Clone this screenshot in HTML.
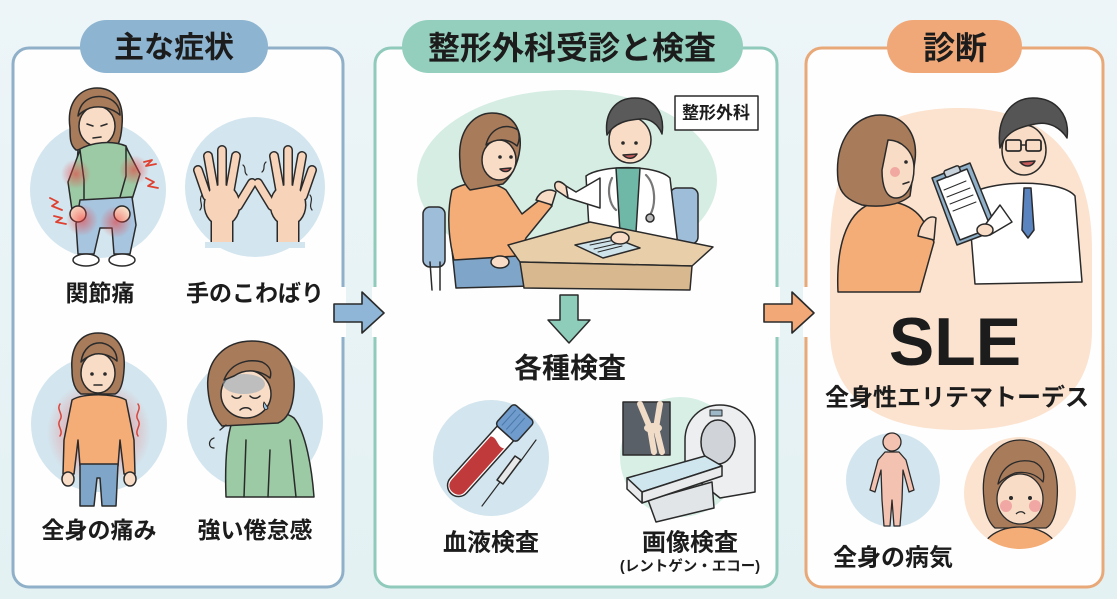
<!DOCTYPE html>
<html><head><meta charset="utf-8">
<style>
html,body{margin:0;padding:0;}
body{width:1117px;height:599px;overflow:hidden;background:#e9f4f7;}
svg{display:block;}
text{font-family:"Liberation Sans","Noto Sans CJK JP",sans-serif;font-weight:700;fill:#1c1c1c;}
</style></head><body>
<svg width="1117" height="599" viewBox="0 0 1117 599" xmlns="http://www.w3.org/2000/svg">
<defs>
<linearGradient id="bgg" x1="0" y1="0" x2="0" y2="1"><stop offset="0" stop-color="#edf5f8"/><stop offset="1" stop-color="#e3f1f3"/></linearGradient>
<radialGradient id="red"><stop offset="0" stop-color="#ee3b3b" stop-opacity="0.6"/><stop offset="1" stop-color="#ee3b3b" stop-opacity="0"/></radialGradient>
<radialGradient id="red2"><stop offset="0.4" stop-color="#f06a6a" stop-opacity="0.55"/><stop offset="1" stop-color="#f06a6a" stop-opacity="0"/></radialGradient>
<clipPath id="pc"><circle cx="1020" cy="493" r="56"/></clipPath>
</defs>
<rect width="1117" height="599" fill="url(#bgg)"/>

<!-- Panels -->
<rect x="13" y="48" width="330" height="539" rx="16" fill="#fefefe" stroke="#8fb0c8" stroke-width="3"/>
<rect x="375" y="48" width="402" height="539" rx="16" fill="#fefefe" stroke="#90cabb" stroke-width="3"/>
<rect x="806" y="48" width="297" height="539" rx="16" fill="#fefefe" stroke="#e8a878" stroke-width="3"/>

<!-- Pills -->
<rect x="80" y="20" width="188" height="53" rx="26.5" fill="#8db4d0"/>
<text x="174" y="48" font-size="30" text-anchor="middle" dominant-baseline="central">主な症状</text>
<rect x="402" y="20" width="341" height="53" rx="26.5" fill="#94cfbd"/>
<text x="572" y="48" font-size="32" text-anchor="middle" dominant-baseline="central">整形外科受診と検査</text>
<rect x="887" y="20" width="135" height="53" rx="26.5" fill="#f0a878"/>
<text x="955" y="48" font-size="32" text-anchor="middle" dominant-baseline="central">診断</text>

<!-- Border gaps + arrows -->
<rect x="340" y="287" width="6" height="50" fill="#fefefe"/>
<rect x="346" y="287" width="27" height="50" fill="#e7f3f5"/>
<rect x="372" y="287" width="6" height="50" fill="#fefefe"/>
<path d="M334,304 L362,304 L362,292 L384,313 L362,333 L362,322 L334,322 Z" fill="#8fb6d6" stroke="#2a2a2a" stroke-width="1.6" stroke-linejoin="round"/>
<rect x="774" y="287" width="6" height="50" fill="#fefefe"/>
<rect x="780" y="287" width="24" height="50" fill="#e7f3f5"/>
<rect x="803" y="287" width="6" height="50" fill="#fefefe"/>
<path d="M764,304 L792,304 L792,292 L814,313 L792,333 L792,322 L764,322 Z" fill="#f3a878" stroke="#2a2a2a" stroke-width="1.6" stroke-linejoin="round"/>

<g stroke="#2a2a2a" stroke-width="1.5" stroke-linejoin="round" stroke-linecap="round">
<!-- ===== Panel 1 fig1: joint pain ===== -->
<circle cx="98" cy="190" r="68" fill="#d3e5ee" stroke="none"/>
<path d="M70,128 C66,100 82,88 97,88 C115,88 124,102 122,125 C121,140 118,148 112,150 L76,150 C70,145 70,138 70,128Z" fill="#a87b5b"/>
<ellipse cx="97" cy="126" rx="18" ry="20" fill="#f8dcc6"/>
<path d="M78,116 C80,100 92,95 104,97 C114,99 120,106 120,115 C112,108 100,105 90,108 C85,110 81,112 78,116Z" fill="#a87b5b"/>
<path d="M87,124 L93,126 M101,126 L107,124 M93,138 L101,137" fill="none"/>
<path d="M78,150 L76,178 L82,202 L132,198 L136,172 L126,146 C112,140 92,142 78,150Z" fill="#9ccaa5"/>
<path d="M80,150 L68,182 L72,210 L84,210 L84,180 Z" fill="#9ccaa5"/>
<path d="M126,147 L140,174 L128,212 L117,208 L126,176 Z" fill="#9ccaa5"/>
<path d="M80,200 L132,197 L136,225 L130,254 L114,254 L112,228 L100,228 L94,254 L78,254 L76,224Z" fill="#a8c5df"/>
<ellipse cx="78" cy="214" rx="8" ry="8" fill="#f8dcc6"/>
<ellipse cx="122" cy="214" rx="8" ry="8" fill="#f8dcc6"/>
<ellipse cx="86" cy="260" rx="13" ry="6" fill="#fff"/>
<ellipse cx="122" cy="260" rx="13" ry="6" fill="#fff"/>
<circle cx="76" cy="174" r="15" fill="url(#red)" stroke="none"/>
<circle cx="134" cy="170" r="15" fill="url(#red)" stroke="none"/>
<circle cx="82" cy="220" r="16" fill="url(#red)" stroke="none"/>
<circle cx="116" cy="222" r="16" fill="url(#red)" stroke="none"/>
<path d="M50,198 L58,202 L52,206 L62,210 M54,216 L62,218 L56,222 L66,224 M144,162 L152,160 L146,166 L156,164 M146,178 L154,182 L148,186 L158,188" fill="none" stroke="#e0402f" stroke-width="1.8"/>

<!-- ===== fig2: hands ===== -->
<circle cx="255" cy="187" r="70" fill="#d3e5ee" stroke="none"/>
<g stroke="#2a2a2a" stroke-width="10">
<path d="M238,206 L252,183 M230,190 L236,156 M222,188 L222,150 M214,190 L208,156 M207,196 L198,170 M272,206 L258,183 M280,190 L274,156 M288,188 L288,150 M296,190 L302,156 M303,196 L312,170" fill="none"/>
</g>
<g stroke="none" fill="#2a2a2a">
<ellipse cx="222" cy="205" rx="18.5" ry="21.5"/><rect x="210.5" y="210" width="23" height="32"/>
<ellipse cx="288" cy="205" rx="18.5" ry="21.5"/><rect x="276.5" y="210" width="23" height="32"/>
</g>
<g stroke="#f7d3b9" stroke-width="7">
<path d="M238,206 L252,183 M230,190 L236,156 M222,188 L222,150 M214,190 L208,156 M207,196 L198,170 M272,206 L258,183 M280,190 L274,156 M288,188 L288,150 M296,190 L302,156 M303,196 L312,170" fill="none"/>
</g>
<g stroke="none" fill="#f7d3b9">
<ellipse cx="222" cy="205" rx="17" ry="20"/><rect x="212" y="210" width="20" height="34"/>
<ellipse cx="288" cy="205" rx="17" ry="20"/><rect x="278" y="210" width="20" height="34"/>
</g>
<rect x="205" y="242" width="100" height="6" fill="#d3e5ee" stroke="none"/>
<path d="M202,195 C198,200 204,205 200,210 M310,195 C314,200 308,205 312,210 M243,165 C247,168 243,172 247,175 M266,162 C262,165 266,169 262,172" fill="none" stroke-width="1.2"/>

<!-- ===== fig3: whole body pain ===== -->
<circle cx="99" cy="424" r="68" fill="#d3e5ee" stroke="none"/>
<circle cx="99" cy="432" r="52" fill="url(#red2)" stroke="none"/>
<path d="M72,370 C70,345 82,333 98,333 C116,333 126,346 124,370 C123,385 120,392 115,394 L81,394 C75,390 72,382 72,370Z" fill="#a87b5b"/>
<ellipse cx="98" cy="373" rx="17" ry="20" fill="#f8dcc6"/>
<path d="M81,362 C83,348 92,342 102,343 C112,345 117,352 117,361 C110,355 100,352 92,355 C87,357 84,359 81,362Z" fill="#a87b5b"/>
<circle cx="92" cy="374" r="1.8" fill="#2a2a2a" stroke="none"/><circle cx="105" cy="374" r="1.8" fill="#2a2a2a" stroke="none"/>
<path d="M94,385 L102,385" fill="none"/>
<path d="M72,400 C82,393 114,393 126,400 L134,440 L135,474 L124,474 L120,440 L118,466 L80,466 L78,440 L74,474 L63,474 L64,440 Z" fill="#f5ad78"/>
<path d="M80,464 L118,464 L116,506 L102,506 L100,478 L97,478 L94,506 L80,506Z" fill="#7fa6c8"/>
<ellipse cx="68" cy="479" rx="6" ry="7" fill="#f8dcc6"/>
<ellipse cx="130" cy="479" rx="6" ry="7" fill="#f8dcc6"/>
<path d="M60,404 C56,410 64,414 60,420 C56,426 64,430 60,436 M138,404 C142,410 134,414 138,420 C142,426 134,430 138,436" fill="none" stroke="#d9443a" stroke-width="1.5"/>

<!-- ===== fig4: fatigue ===== -->
<circle cx="255" cy="422" r="68" fill="#d3e5ee" stroke="none"/>
<path d="M232,422 C246,410 282,408 294,418 C306,432 312,470 314,497 L226,497 C225,470 226,440 232,422Z" fill="#9ccaa5"/>
<path d="M246,440 L244,497 M290,440 L296,497 M270,450 L268,497" fill="none"/>
<path d="M208,390 C205,360 225,341 252,341 C280,341 296,360 294,390 C293,410 286,420 278,423 L222,426 C213,416 209,403 208,390Z" fill="#a87b5b"/>
<ellipse cx="246" cy="394" rx="25" ry="24" fill="#f8dcc6"/>
<ellipse cx="244" cy="384" rx="21" ry="10" fill="#8ea6b8" opacity="0.55" stroke="none"/>
<path d="M224,380 C230,364 246,358 262,362 C270,366 272,372 270,378 C260,370 246,368 234,376 Z" fill="#a87b5b"/>
<path d="M232,396 C235,399 239,399 241,396 M250,396 C253,399 257,399 260,396 M240,410 C243,407 249,407 251,410" fill="none"/>
<path d="M264,402 C262,408 266,412 268,408 Z" fill="#9cc8e8" stroke-width="1"/>
<path d="M214,438 C208,440 208,448 214,448 M220,430 L226,425" fill="none" stroke-width="1.3"/>
</g>

<text x="100" y="293" font-size="23" text-anchor="middle" dominant-baseline="central">関節痛</text>
<text x="255" y="293" font-size="23" text-anchor="middle" dominant-baseline="central">手のこわばり</text>
<text x="99" y="530" font-size="23" text-anchor="middle" dominant-baseline="central">全身の痛み</text>
<text x="255" y="530" font-size="23" text-anchor="middle" dominant-baseline="central">強い倦怠感</text>

<!-- ===== Panel 2 scene ===== -->
<g stroke="#2a2a2a" stroke-width="1.5" stroke-linejoin="round" stroke-linecap="round">
<ellipse cx="567" cy="180" rx="150" ry="90" fill="#d6ede3" stroke="none"/>
<rect x="423" y="207" width="22" height="60" rx="7" fill="#9ebdd9"/>
<path d="M440,262 L440,290 M430,262 L432,290" fill="none"/>
<rect x="670" y="188" width="28" height="56" rx="7" fill="#9ebdd9"/>
<path d="M452,250 L520,248 L532,286 L456,288Z" fill="#7fa6c8"/>
<path d="M452,190 C466,181 492,180 506,190 L522,214 L542,198 L552,206 L526,238 L518,256 L454,260 C448,236 447,212 452,190Z" fill="#f5ad78"/>
<path d="M536,200 C540,190 550,188 556,192 L552,205 Z" fill="#f8dcc6"/>
<ellipse cx="500" cy="262" rx="9" ry="6" fill="#f8dcc6"/>
<path d="M460,162 C457,130 474,113 492,113 C512,113 522,128 520,148 C518,166 510,178 503,184 L470,190 C462,182 460,172 460,162Z" fill="#a87b5b"/>
<ellipse cx="499" cy="160" rx="17" ry="20" fill="#f8dcc6"/>
<path d="M486,145 C490,128 506,122 518,130 C520,136 519,142 517,146 C508,138 496,138 486,145Z" fill="#a87b5b"/>
<circle cx="500" cy="157" r="1.8" fill="#2a2a2a" stroke="none"/><circle cx="511" cy="157" r="1.8" fill="#2a2a2a" stroke="none"/>
<path d="M500,169 C504,173 509,172 511,168 Z" fill="#c65a5a"/>
<path d="M586,176 C600,165 656,164 670,178 L678,246 L590,246 Z" fill="#fff"/>
<path d="M616,168 L640,168 L636,232 L620,232Z" fill="#6fb8a8"/>
<path d="M600,178 L576,192 L566,186 L568,198 L600,208Z" fill="#fff"/>
<path d="M566,186 C558,178 552,182 556,190 L568,198 Z" fill="#f8dcc6"/>
<path d="M646,175 C656,185 656,205 650,215 M612,178 C606,190 610,205 616,210" fill="none" stroke="#777" stroke-width="2.2"/>
<circle cx="650" cy="218" r="4" fill="#bbb"/>
<ellipse cx="630" cy="140" rx="21" ry="23" fill="#f8dcc6"/>
<path d="M607,135 C604,112 616,98 635,98 C655,98 665,114 662,134 C658,124 650,118 640,119 C628,120 615,122 607,135Z" fill="#5a5a5a"/>
<circle cx="623" cy="143" r="1.8" fill="#2a2a2a" stroke="none"/><circle cx="636" cy="143" r="1.8" fill="#2a2a2a" stroke="none"/>
<path d="M623,155 C628,160 634,159 637,154 Z" fill="#c65a5a"/>
<path d="M508,245 L590,222 L713,247 L692,266 L520,262 Z" fill="#e8cfaa"/>
<path d="M520,262 L692,266 L690,290 L524,288 Z" fill="#d8b98f"/>
<path d="M575,245 L612,237 L640,248 L603,258 Z" fill="#cfe3ea"/>
<path d="M590,245 L615,240 M594,249 L620,243 M598,252 L622,246" fill="none" stroke-width="1"/>
<ellipse cx="620" cy="238" rx="9" ry="6" fill="#f8dcc6"/>
<rect x="675" y="96" width="83" height="34" fill="#fff" stroke-width="1.5"/>
</g>
<text x="716" y="113" font-size="17" text-anchor="middle" dominant-baseline="central">整形外科</text>

<path d="M560,295 L578,295 L578,320 L590,320 L569,343 L548,320 L560,320Z" fill="#8fcdbb" stroke="#2a2a2a" stroke-width="1.5" stroke-linejoin="round"/>
<text x="570" y="368" font-size="28" text-anchor="middle" dominant-baseline="central">各種検査</text>

<g stroke="#2a2a2a" stroke-width="1.5" stroke-linejoin="round" stroke-linecap="round">
<circle cx="491" cy="458" r="58" fill="#d3e5ee" stroke="none"/>
<g transform="rotate(42 486 455)">
<rect x="475" y="405" width="22" height="102" rx="11" fill="#fff"/>
<path d="M477,438 C483,434 489,442 495,438 L495,496 C495,502 491,505 486,505 C481,505 477,502 477,496 Z" fill="#c0393b" stroke="none"/>
<rect x="472" y="398" width="28" height="28" rx="4" fill="#6f9ccc"/>
<path d="M478,402 L478,422 M484,402 L484,422 M490,402 L490,422" fill="none" stroke="#4a78a8" stroke-width="1"/>
</g>
<path d="M536,440 L520,462" fill="none" stroke-width="1.2"/>
<path d="M521,460 L503,484 L497,480 L515,456 Z" fill="#e8e8e8"/>
<path d="M500,482 L482,506" fill="none" stroke-width="1.2"/>

<circle cx="680" cy="457" r="60" fill="#d8efe6" stroke="none"/>
<rect x="623" y="402" width="47" height="53" fill="#5a6068"/>
<path d="M640,404 L650,428 L654,452 M660,404 L656,428 L662,452" fill="none" stroke="#f1dcc8" stroke-width="6"/>
<ellipse cx="653" cy="428" rx="9" ry="5" fill="#f1dcc8" stroke="none"/>
<path d="M685,470 L685,440 C685,420 700,405 720,405 C740,405 755,420 755,440 L755,492 L720,498 Z" fill="#eceef0"/>
<ellipse cx="718" cy="442" rx="17" ry="22" fill="#d0d4d8"/>
<rect x="710" y="410" width="12" height="6" fill="#9fb8c8" stroke-width="1"/>
<path d="M648,500 L712,482 L714,508 L656,522 Z" fill="#e2e5e8"/>
<path d="M627,478 L705,456 L722,466 L642,492 Z" fill="#cfe6ee"/>
<path d="M642,492 L722,466 L722,476 L642,503 Z" fill="#e8eaec"/>
<path d="M627,478 L642,492 L642,503 L627,489 Z" fill="#e8eaec"/>
</g>

<text x="491" y="543" font-size="24" text-anchor="middle" dominant-baseline="central">血液検査</text>
<text x="690" y="543" font-size="24" text-anchor="middle" dominant-baseline="central">画像検査</text>
<text x="690" y="567" font-size="14.5" text-anchor="middle" dominant-baseline="central">(レントゲン・エコー)</text>

<!-- ===== Panel 3 ===== -->
<path d="M830,250 C830,140 880,108 960,108 C1040,108 1092,150 1092,250 L1092,330 C1092,400 1040,430 960,430 C880,430 830,400 830,330 Z" fill="#fbe3cf"/>
<g stroke="#2a2a2a" stroke-width="1.5" stroke-linejoin="round" stroke-linecap="round">
<path d="M838,292 C836,250 845,214 870,204 C890,197 915,204 925,224 L934,242 L920,292Z" fill="#f5ad78"/>
<path d="M918,236 C920,222 930,214 936,218 L934,240 Z" fill="#f8dcc6"/>
<path d="M838,180 C834,140 855,115 880,115 C905,115 918,135 915,160 L910,196 C900,205 880,208 862,205 C848,200 840,194 838,180Z" fill="#a87b5b"/>
<path d="M888,140 C900,140 914,150 914,168 C914,186 906,198 896,198 C886,198 882,186 882,170 Z" fill="#f8dcc6"/>
<circle cx="895" cy="172" r="5" fill="#f0a8a0" stroke="none"/>
<circle cx="906" cy="162" r="1.8" fill="#2a2a2a" stroke="none"/>
<path d="M903,184 L909,182" fill="none"/>
<path d="M968,196 C985,180 1060,178 1075,196 L1082,282 L975,284 Z" fill="#fff"/>
<path d="M1024,188 L1031,188 L1034,230 L1028,238 L1022,230 Z" fill="#5a84c0"/>
<ellipse cx="1024" cy="150" rx="22" ry="25" fill="#f8dcc6"/>
<path d="M1000,148 C996,118 1011,98 1033,98 C1056,98 1070,115 1067,138 C1060,127 1048,121 1035,124 C1020,127 1006,131 1000,148Z" fill="#555"/>
<rect x="1006" y="140" width="15" height="11" rx="2" fill="none" stroke-width="1.8"/>
<rect x="1026" y="140" width="15" height="11" rx="2" fill="none" stroke-width="1.8"/>
<path d="M1021,145 L1026,145" fill="none"/>
<path d="M1020,162 C1025,168 1032,167 1035,161 Z" fill="#c65a5a"/>
<path d="M932,178 L970,163 L997,230 L957,245 Z" fill="#8fb0c8"/>
<path d="M937,181 L967,169 L991,228 L960,240 Z" fill="#fff"/>
<path d="M944,190 L966,181 M947,197 L970,188 M950,204 L973,195 M953,211 L976,202" fill="none" stroke-width="1"/>
<rect x="944" y="168" width="16" height="7" rx="2" fill="#c8d2da" transform="rotate(-22 952 171)"/>
<path d="M1000,205 L985,225 L990,235 L1012,222 Z" fill="#fff"/>
<ellipse cx="985" cy="230" rx="8" ry="6" fill="#f8dcc6"/>
</g>

<text x="955" y="365" font-size="68" text-anchor="middle" style="font-weight:700">SLE</text>
<text x="957" y="398" font-size="24" text-anchor="middle" dominant-baseline="central">全身性エリテマトーデス</text>

<g stroke="#2a2a2a" stroke-width="1.3" stroke-linejoin="round">
<circle cx="893" cy="480" r="47" fill="#d3e5ee" stroke="none"/>
<circle cx="892" cy="442" r="9" fill="#f4c2b0"/>
<path d="M885,452 L899,452 L906,460 L914,490 L909,492 L903,470 L902,500 L900,526 L894,526 L892,500 L890,526 L884,526 L882,500 L881,470 L875,492 L870,490 L878,460Z" fill="#f4c2b0"/>
<circle cx="1020" cy="493" r="56" fill="#fbe3cf" stroke="none"/>
<g clip-path="url(#pc)">
<path d="M984,500 C980,465 995,440 1020,440 C1045,440 1060,465 1057,500 C1056,515 1052,525 1046,528 L995,528 C988,522 985,512 984,500Z" fill="#a87b5b"/>
<path d="M980,552 C986,533 1004,527 1020,527 C1036,527 1054,533 1060,552 Z" fill="#f5ad78"/>
<ellipse cx="1020" cy="499" rx="23" ry="25" fill="#f8dcc6"/>
<path d="M998,484 C1002,464 1018,458 1034,462 C1043,466 1045,474 1043,482 C1036,474 1026,471 1015,473 C1007,476 1002,480 998,484Z" fill="#a87b5b"/>
<circle cx="1006" cy="506" r="6" fill="#ef9a9a" stroke="none" opacity="0.8"/>
<circle cx="1035" cy="506" r="6" fill="#ef9a9a" stroke="none" opacity="0.8"/>
<circle cx="1011" cy="498" r="2" fill="#2a2a2a" stroke="none"/>
<circle cx="1030" cy="498" r="2" fill="#2a2a2a" stroke="none"/>
<path d="M1016,514 C1019,511 1023,511 1025,514" fill="none"/>
</g>
</g>
<text x="893" y="558" font-size="24" text-anchor="middle" dominant-baseline="central">全身の病気</text>
</svg>
</body></html>
